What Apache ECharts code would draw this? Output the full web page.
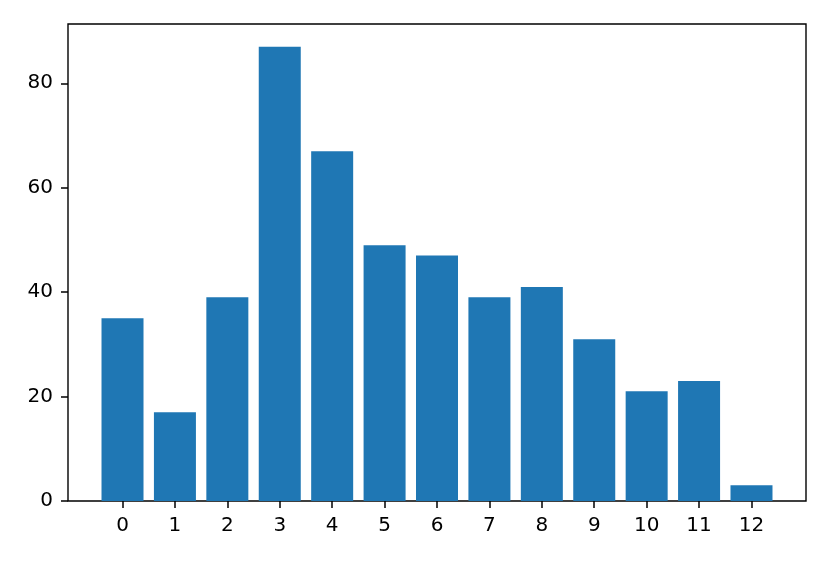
<!DOCTYPE html>
<html>
<head>
<meta charset="utf-8">
<script src="https://cdn.jsdelivr.net/npm/echarts@6/dist/echarts.min.js"></script>
<style>
  html, body { margin: 0; padding: 0; background: #fff; }
  #container { width: 830px; height: 564px; }
</style>
</head>
<body>
<div id="container"></div>
<script>
var categories = [0, 1, 2, 3, 4, 5, 6, 7, 8, 9, 10, 11, 12];
var values = [35, 17, 39, 87, 67, 49, 47, 39, 41, 31, 21, 23, 3];
var yTicks = [0, 20, 40, 60, 80];

var dom = document.getElementById("container");
var myChart = echarts.init(dom);

var barData = categories.map(function (c, i) { return [c, values[i]]; });
var axisColor = '#000';
var fontFamily = 'DejaVu Sans';
var tickLen = 7;

// matplotlib axes box
var frame = { left: 68, right: 24, top: 24, bottom: 63 };
var xMin = -1.04, xMax = 13.04, yMax = 91.35;
var xUnit = (830 - frame.left - frame.right) / (xMax - xMin);
var yUnit = (564 - frame.top - frame.bottom) / yMax;
var firstCat = categories[0], lastCat = categories[categories.length - 1];

var option = {
    animation: false,
    grid: [
        // data grid, widened to the left by the tick length so y ticks sit inside it
        {
            left: frame.left - tickLen,
            right: frame.right,
            top: frame.top,
            bottom: frame.bottom
        },
        // frame
        {
            left: frame.left,
            right: frame.right,
            top: frame.top,
            bottom: frame.bottom,
            show: true,
            borderColor: axisColor,
            borderWidth: 1.4,
            backgroundColor: 'transparent'
        },
        // thin strip under the frame holding the x ticks (from first to last category)
        {
            left: frame.left + (firstCat - xMin) * xUnit,
            right: frame.right + (xMax - lastCat) * xUnit,
            top: 564 - frame.bottom,
            bottom: frame.bottom - tickLen
        }
    ],
    xAxis: [
        {
            gridIndex: 0,
            type: 'value',
            min: xMin - tickLen / xUnit,
            max: xMax,
            splitLine: { show: false },
            axisLine: { show: false, onZero: false },
            axisTick: { show: false },
            axisLabel: {
                customValues: categories,
                color: axisColor,
                fontSize: 20,
                fontFamily: fontFamily,
                margin: 15
            }
        },
        {
            gridIndex: 1,
            type: 'value',
            min: 0,
            max: 1,
            show: false
        },
        {
            gridIndex: 2,
            type: 'value',
            min: firstCat,
            max: lastCat,
            interval: 1,
            position: 'bottom',
            splitLine: { show: true, lineStyle: { color: axisColor, width: 1.5 } },
            axisLine: { show: false, onZero: false },
            axisTick: { show: false },
            axisLabel: { show: false }
        }
    ],
    yAxis: [
        {
            gridIndex: 0,
            type: 'value',
            min: 0,
            max: yMax,
            splitLine: { show: false },
            axisLine: { show: false, onZero: false },
            axisTick: {
                show: true,
                inside: true,
                customValues: yTicks,
                length: tickLen,
                lineStyle: { color: axisColor, width: 1.5 }
            },
            axisLabel: {
                customValues: yTicks,
                color: axisColor,
                fontSize: 20,
                fontFamily: fontFamily,
                margin: 8
            }
        },
        {
            gridIndex: 1,
            type: 'value',
            min: 0,
            max: 1,
            show: false
        },
        {
            gridIndex: 2,
            type: 'value',
            min: 0,
            max: 1,
            show: false
        }
    ],
    series: [
        {
            type: 'bar',
            xAxisIndex: 0,
            yAxisIndex: 0,
            data: barData,
            barWidth: 42,
            itemStyle: { color: '#1f77b4' }
        }
    ]
};

myChart.setOption(option, true);
</script>
</body>
</html>
